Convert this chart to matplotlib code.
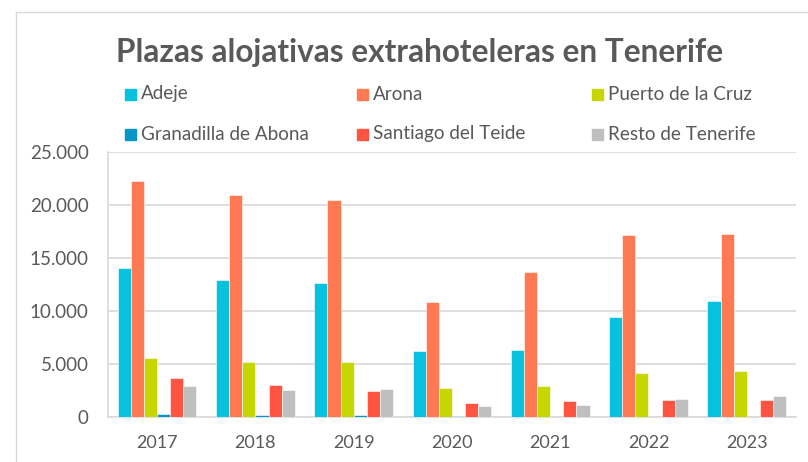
import numpy as np
import matplotlib.pyplot as plt
from matplotlib.patches import Rectangle
from matplotlib.lines import Line2D
from matplotlib.ticker import FuncFormatter

plt.rcParams['font.family'] = ['Lato', 'DejaVu Sans']

years = ['2017', '2018', '2019', '2020', '2021', '2022', '2023']
names = ['Adeje', 'Arona', 'Puerto de la Cruz',
         'Granadilla de Abona', 'Santiago del Teide', 'Resto de Tenerife']
colors = ['#07C1DE', '#FF7A53', '#C5D600', '#0795C7', '#FF5441', '#BFBFBF']

adeje = [14050, 12930, 12610, 6180, 6340, 9390, 10940]
arona = [22300, 20960, 20430, 10810, 13650, 17150, 17240]
puerto = [5550, 5230, 5230, 2710, 2900, 4160, 4320]
granadilla = [250, 160, 160, 50, 0, 0, 0]
santiago = [3660, 3060, 2430, 1290, 1540, 1640, 1640]
resto = [2900, 2550, 2650, 1010, 1100, 1730, 1950]
series = [adeje, arona, puerto, granadilla, santiago, resto]

grey = '#595959'
fig = plt.figure(figsize=(8.08, 4.62), dpi=100)
ax = fig.add_axes([0.1337, 0.0974, 0.8513, 0.5736])

x = np.arange(len(years))
w = 0.8 / 6
for i, vals in enumerate(series):
    ax.bar(x + (i - 2.5) * w, vals, w, color=colors[i],
           edgecolor='white', linewidth=0.4, zorder=3)

ax.set_xlim(-0.5, 6.5)
ax.set_ylim(0, 25000)
ax.set_yticks(np.arange(0, 25001, 5000))
ax.yaxis.set_major_formatter(FuncFormatter(lambda v, p: f'{int(v):,}'.replace(',', '.')))
ax.set_xticks(x)
ax.set_xticklabels(years)
ax.grid(axis='y', color='#D9D9D9', linewidth=1.2, zorder=0)
for s in ['top', 'right']:
    ax.spines[s].set_visible(False)
ax.spines['left'].set_color('#D9D9D9')
ax.spines['bottom'].set_color('#D9D9D9')
ax.spines['left'].set_linewidth(1.2)
ax.spines['bottom'].set_linewidth(1.2)
ax.tick_params(length=0, labelsize=13.5, labelcolor=grey)
ax.tick_params(axis='y', pad=14)
ax.tick_params(axis='x', labelsize=13, pad=13)

fig.text(0.5195, 0.886, 'Plazas alojativas extrahoteleras en Tenerife',
         ha='center', va='center', fontsize=22.7, fontweight='bold', color=grey)

# legend drawn by hand, 3 columns x 2 rows like the original
col_x = [125, 357, 592]
row_y = [94, 134]
for i, name in enumerate(names):
    cx = col_x[i % 3]
    cy = row_y[i // 3]
    fig.patches.append(Rectangle((cx / 808, 1 - (cy + 5.5) / 462), 11 / 808, 11 / 462,
                                 transform=fig.transFigure, color=colors[i]))
    fig.text((cx + 16) / 808, 1 - cy / 462, name, ha='left', va='center',
             fontsize=13.6, color=grey)

# outer chart frame of the screenshot
fig.add_artist(Line2D([16 / 808, 16 / 808], [0, 1 - 12 / 462], color='#D9D9D9', lw=1,
                      transform=fig.transFigure))
fig.add_artist(Line2D([16 / 808, 1], [1 - 12 / 462, 1 - 12 / 462], color='#D9D9D9', lw=1,
                      transform=fig.transFigure))

fig.savefig('out.png', dpi=100)
